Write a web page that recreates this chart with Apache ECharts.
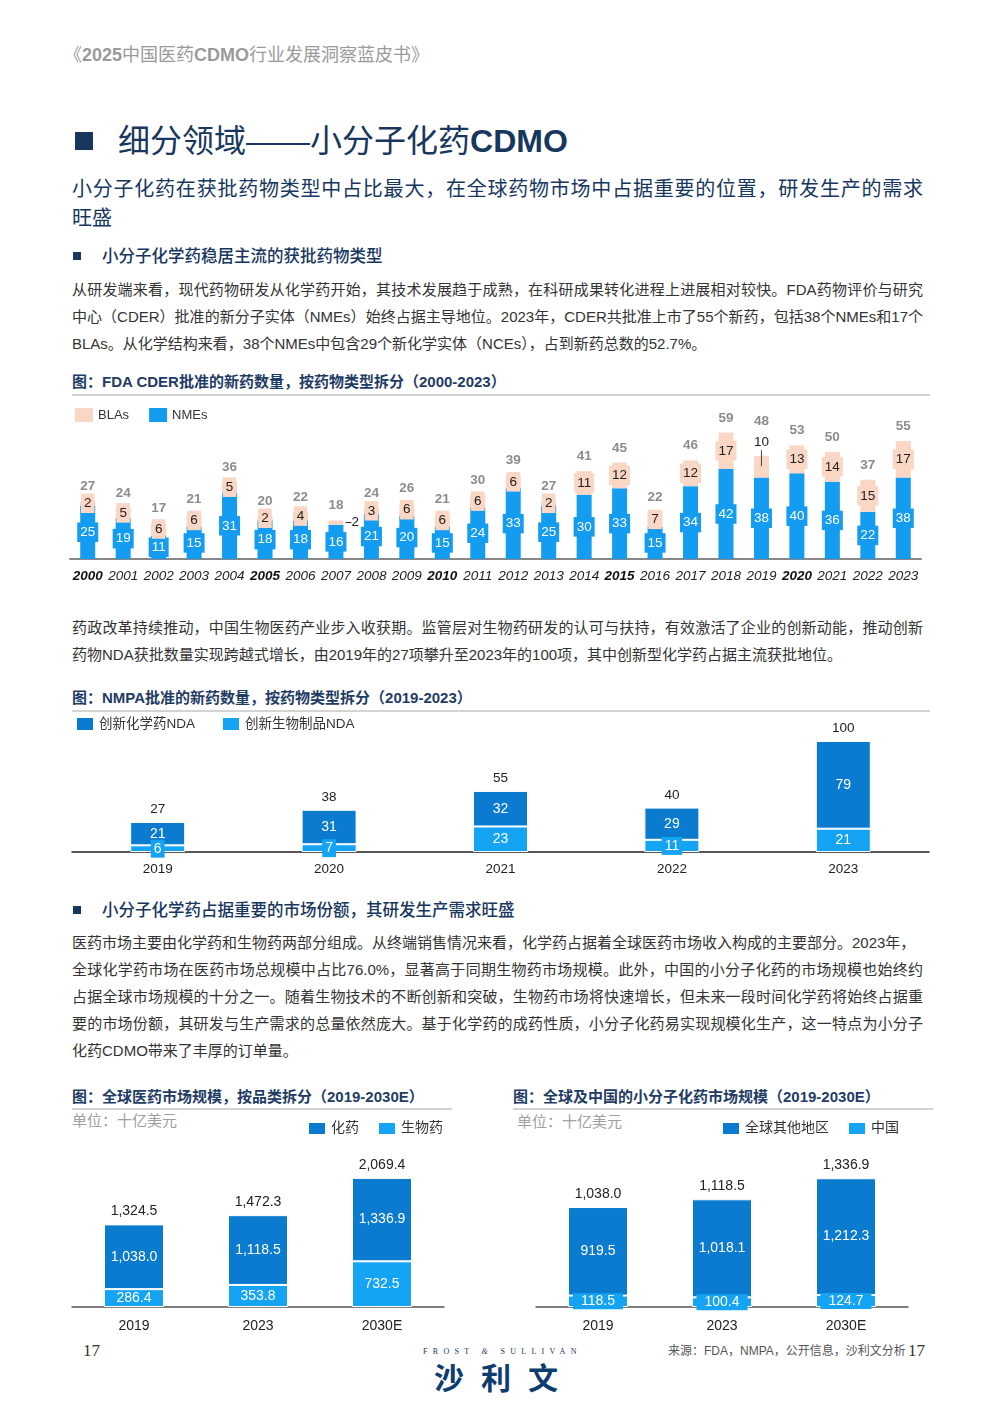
<!DOCTYPE html>
<html><head><meta charset="utf-8">
<script src="https://cdn.jsdelivr.net/npm/echarts@6/dist/echarts.min.js"></script>
<style>
body{margin:0;width:997px;height:1417px;position:relative;background:#fff;font-family:"Liberation Sans","Noto Sans CJK SC",sans-serif;overflow:hidden;color:#333}
.a{position:absolute}
.p{position:absolute;left:72px;width:851px;font-size:15px;line-height:20px;color:#333}
.j{text-align:justify;text-align-last:justify}
.ft{position:absolute;font-size:15px;line-height:20px;font-weight:bold;color:#1f3c64;white-space:nowrap}
.hr{position:absolute;height:2px;background:#d4d4d4}
.sq{position:absolute;background:#17375e}
.sh{position:absolute;left:102px;font-size:16.5px;line-height:22px;color:#17375e;font-weight:500;white-space:nowrap}
.unit{position:absolute;font-size:15px;line-height:20px;color:#a0a0a0;white-space:nowrap}
</style></head>
<body>
<div class="a" style="left:64px;top:44px;font-size:18px;line-height:22px;color:#9a9a9a;white-space:nowrap">《<b>2025</b>中国医药<b>CDMO</b>行业发展洞察蓝皮书》</div>

<div class="sq" style="left:75px;top:132px;width:18px;height:18px"></div>
<div class="a" style="left:118px;top:121px;font-size:32px;line-height:40px;color:#17375e;white-space:nowrap">细分领域——小分子化药<b>CDMO</b></div>

<div class="a j" style="left:72px;top:177px;width:851px;font-size:20px;line-height:24px;color:#17375e">小分子化药在获批药物类型中占比最大，在全球药物市场中占据重要的位置，研发生产的需求</div>
<div class="a" style="left:72px;top:206px;font-size:20px;line-height:24px;color:#17375e">旺盛</div>

<div class="sq" style="left:73px;top:252px;width:8px;height:8px"></div>
<div class="sh" style="top:245px">小分子化学药稳居主流的获批药物类型</div>

<div class="p j" style="top:280px">从研发端来看，现代药物研发从化学药开始，其技术发展趋于成熟，在科研成果转化进程上进展相对较快。FDA药物评价与研究</div>
<div class="p j" style="top:307px">中心（CDER）批准的新分子实体（NMEs）始终占据主导地位。2023年，CDER共批准上市了55个新药，包括38个NMEs和17个</div>
<div class="p" style="top:334px">BLAs。从化学结构来看，38个NMEs中包含29个新化学实体（NCEs），占到新药总数的52.7%。</div>

<div class="ft" style="left:72px;top:372px">图：FDA CDER批准的新药数量，按药物类型拆分（2000-2023）</div>
<div class="hr" style="left:72px;top:394px;width:858px"></div>
<div id="c1" class="a" style="left:60px;top:400px;width:880px;height:190px"></div>

<div class="p j" style="top:618px">药政改革持续推动，中国生物医药产业步入收获期。监管层对生物药研发的认可与扶持，有效激活了企业的创新动能，推动创新</div>
<div class="p" style="top:645px">药物NDA获批数量实现跨越式增长，由2019年的27项攀升至2023年的100项，其中创新型化学药占据主流获批地位。</div>

<div class="ft" style="left:72px;top:688px">图：NMPA批准的新药数量，按药物类型拆分（2019-2023）</div>
<div class="hr" style="left:72px;top:710px;width:858px"></div>
<div id="c2" class="a" style="left:60px;top:715px;width:880px;height:165px"></div>

<div class="sq" style="left:73px;top:906px;width:8px;height:8px"></div>
<div class="sh" style="top:899px">小分子化学药占据重要的市场份额，其研发生产需求旺盛</div>

<div class="p" style="top:933px">医药市场主要由化学药和生物药两部分组成。从终端销售情况来看，化学药占据着全球医药市场收入构成的主要部分。2023年，</div>
<div class="p j" style="top:960px">全球化学药市场在医药市场总规模中占比76.0%，显著高于同期生物药市场规模。此外，中国的小分子化药的市场规模也始终约</div>
<div class="p j" style="top:987px">占据全球市场规模的十分之一。随着生物技术的不断创新和突破，生物药市场将快速增长，但未来一段时间化学药将始终占据重</div>
<div class="p j" style="top:1014px">要的市场份额，其研发与生产需求的总量依然庞大。基于化学药的成药性质，小分子化药易实现规模化生产，这一特点为小分子</div>
<div class="p" style="top:1041px">化药CDMO带来了丰厚的订单量。</div>

<div class="ft" style="left:72px;top:1087px">图：全球医药市场规模，按品类拆分（2019-2030E）</div>
<div class="hr" style="left:72px;top:1108px;width:380px"></div>
<div class="unit" style="left:72px;top:1111px">单位：十亿美元</div>
<div id="c3" class="a" style="left:60px;top:1110px;width:400px;height:230px"></div>

<div class="ft" style="left:513px;top:1087px">图：全球及中国的小分子化药市场规模（2019-2030E）</div>
<div class="hr" style="left:513px;top:1108px;width:420px"></div>
<div class="unit" style="left:517px;top:1112px">单位：十亿美元</div>
<div id="c4" class="a" style="left:500px;top:1110px;width:440px;height:230px"></div>

<div class="a" style="left:83px;top:1341px;font-size:17px;line-height:20px;color:#333;font-family:'Liberation Serif',serif">17</div>
<div class="a" style="left:423px;top:1347px;font-size:8px;line-height:10px;letter-spacing:5.3px;color:#17375e;font-family:'Liberation Serif',serif;white-space:nowrap">FROST <i>&amp;</i> SULLIVAN</div>
<div class="a" style="left:434px;top:1359px;font-size:30px;line-height:34px;letter-spacing:17px;color:#0d3c6e;font-weight:bold;white-space:nowrap;font-family:'Noto Sans CJK SC'">沙利文</div>
<div class="a" style="left:668px;top:1343px;font-size:12px;line-height:16px;color:#555;white-space:nowrap">来源：FDA，NMPA，公开信息，沙利文分析</div>
<div class="a" style="left:908px;top:1341px;font-size:17px;line-height:20px;color:#333;font-family:'Liberation Serif',serif">17</div>

<script>
// ---------- data ----------
const fdaYears = ['2000','2001','2002','2003','2004','2005','2006','2007','2008','2009','2010','2011','2012','2013','2014','2015','2016','2017','2018','2019','2020','2021','2022','2023'];
const fdaNMEs  = [25,19,11,15,31,18,18,16,21,20,15,24,33,25,30,33,15,34,42,38,40,36,22,38];
const fdaBLAs  = [2,5,6,6,5,2,4,2,3,6,6,6,6,2,11,12,7,12,17,10,13,14,15,17];
const fdaTotal = [27,24,17,21,36,20,22,18,24,26,21,30,39,27,41,45,22,46,59,48,53,50,37,55];
const fdaBoldYears = ['2000','2005','2010','2015','2020'];

const nmpaYears = ['2019','2020','2021','2022','2023'];
const nmpaChem  = [21,31,32,29,79];
const nmpaBio   = [6,7,23,11,21];
const nmpaTotal = [27,38,55,40,100];

const mktYears = ['2019','2023','2030E'];
const mktChem  = [1038.0,1118.5,1336.9];
const mktBio   = [286.4,353.8,732.5];
const mktTotal = [1324.5,1472.3,2069.4];

const smYears = ['2019','2023','2030E'];
const smRest  = [919.5,1018.1,1212.3];
const smChina = [118.5,100.4,124.7];
const smTotal = [1038.0,1118.5,1336.9];

// ---------- styles ----------
const FF = '"Liberation Sans","Noto Sans CJK SC",sans-serif';
const DARK = '#0a7bcf', LIGHT = '#15a3f4', NME = '#139cf0', BLA = '#fad6c5';
const fmt = v => Number(v).toLocaleString('en-US',{minimumFractionDigits:1,maximumFractionDigits:1});

// ---------- chart 1 ----------
const c1 = echarts.init(document.getElementById('c1'));
const blaData = fdaBLAs.map((v,i)=>{
  const y = fdaYears[i];
  if (y==='2007') return {value:v,label:{position:'right',distance:2,backgroundColor:'transparent',padding:0,formatter:'{l|}{t|{c}}'}};
  if (y==='2019') return {value:v,label:{position:'top',distance:-10,backgroundColor:'transparent',padding:0,formatter:'{t|{c}}\n{v|}'}};
  return v;
});
const totData = fdaTotal.map((v,i)=> fdaYears[i]==='2019' ? {value:v,label:{distance:28}} : v);
c1.setOption({
  animation:false,
  textStyle:{fontFamily:FF},
  legend:{data:['BLAs','NMEs'],left:15,top:8,padding:0,itemWidth:18,itemHeight:14,itemGap:20,icon:'rect',textStyle:{fontSize:13,color:'#333'}},
  grid:{left:10,right:19,top:9,bottom:31},
  xAxis:{type:'category',data:fdaYears,axisTick:{show:false},
    axisLine:{lineStyle:{color:'#888',width:2}},
    axisLabel:{interval:0,margin:11,fontSize:13.5,fontStyle:'italic',color:'#222',
      formatter:v=> fdaBoldYears.includes(v)?'{b|'+v+'}':'{n|'+v+'}',
      rich:{b:{fontWeight:'bold',fontStyle:'italic',fontSize:13.5,color:'#111'},n:{fontStyle:'italic',fontSize:13.5,color:'#222'}}}},
  yAxis:{type:'value',min:0,max:70,show:false},
  series:[
    {name:'NMEs',type:'bar',stack:'s',barWidth:15,data:fdaNMEs,itemStyle:{color:NME},
     label:{show:true,position:'inside',color:'#fff',fontSize:13.5,backgroundColor:NME,padding:[3,3]}},
    {name:'BLAs',type:'bar',stack:'s',barWidth:15,data:blaData,itemStyle:{color:BLA},
     label:{show:true,position:'inside',color:'#222',fontSize:13.5,backgroundColor:BLA,padding:[3,3],
       rich:{t:{fontSize:13.5,color:'#222',lineHeight:15},l:{width:6,height:1,backgroundColor:'#222'},v:{width:1,height:16,backgroundColor:'#444'}}}},
    {name:'total',type:'bar',barGap:'-100%',barWidth:15,data:totData,itemStyle:{color:'transparent'},silent:true,
     label:{show:true,position:'top',distance:8,color:'#8c8c8c',fontWeight:'bold',fontSize:13.5}}
  ]
});

// ---------- chart 2 ----------
const c2 = echarts.init(document.getElementById('c2'));
c2.setOption({
  animation:false,
  textStyle:{fontFamily:FF},
  legend:{data:['创新化学药NDA','创新生物制品NDA'],left:15,top:1,padding:0,itemWidth:18,itemHeight:14,itemGap:26,icon:'rect',textStyle:{fontSize:13.5,color:'#333'}},
  grid:{left:12,right:11,top:26,bottom:28},
  xAxis:{type:'category',data:nmpaYears,axisTick:{show:false},
    axisLine:{lineStyle:{color:'#222',width:1.5}},
    axisLabel:{margin:11,fontSize:13.5,color:'#222'}},
  yAxis:{type:'value',min:0,max:100,show:false},
  series:[
    {name:'创新生物制品NDA',type:'bar',stack:'s',barWidth:55,data:nmpaBio,itemStyle:{color:LIGHT,borderColor:'#fff',borderWidth:1},
     label:{show:true,position:'inside',color:'#fff',fontSize:14,backgroundColor:LIGHT,padding:[2,3]}},
    {name:'创新化学药NDA',type:'bar',stack:'s',barWidth:55,data:nmpaChem,itemStyle:{color:DARK,borderColor:'#fff',borderWidth:1},
     label:{show:true,position:'inside',color:'#fff',fontSize:14}},
    {name:'total',type:'bar',barGap:'-100%',barWidth:55,data:nmpaTotal,itemStyle:{color:'transparent'},silent:true,
     label:{show:true,position:'top',distance:6,color:'#222',fontSize:13.5}}
  ]
});

// ---------- chart 3 ----------
const c3 = echarts.init(document.getElementById('c3'));
c3.setOption({
  animation:false,
  textStyle:{fontFamily:FF},
  legend:{data:['化药','生物药'],left:247,top:11,padding:0,itemWidth:18,itemHeight:13,itemGap:18,icon:'rect',textStyle:{fontSize:14,color:'#333'}},
  grid:{left:12,right:16,top:66,bottom:33},
  xAxis:{type:'category',data:mktYears,axisTick:{show:false},
    axisLine:{lineStyle:{color:'#555',width:1.5}},
    axisLabel:{margin:12,fontSize:14,color:'#222'}},
  yAxis:{type:'value',min:0,max:2100,show:false},
  series:[
    {name:'生物药',type:'bar',stack:'s',barWidth:60,data:mktBio,itemStyle:{color:LIGHT,borderColor:'#fff',borderWidth:1},
     label:{show:true,position:'inside',color:'#fff',fontSize:14,formatter:p=>fmt(p.value)}},
    {name:'化药',type:'bar',stack:'s',barWidth:60,data:mktChem,itemStyle:{color:DARK,borderColor:'#fff',borderWidth:1},
     label:{show:true,position:'inside',color:'#fff',fontSize:14,formatter:p=>fmt(p.value)}},
    {name:'total',type:'bar',barGap:'-100%',barWidth:60,data:mktTotal,itemStyle:{color:'transparent'},silent:true,
     label:{show:true,position:'top',distance:6,color:'#222',fontSize:14,formatter:p=>fmt(p.value)}}
  ]
});

// ---------- chart 4 ----------
const c4 = echarts.init(document.getElementById('c4'));
c4.setOption({
  animation:false,
  textStyle:{fontFamily:FF},
  legend:{data:['全球其他地区','中国'],left:221,top:11,padding:0,itemWidth:18,itemHeight:13,itemGap:18,icon:'rect',textStyle:{fontSize:14,color:'#333'}},
  grid:{left:36,right:32,top:67,bottom:33},
  xAxis:{type:'category',data:smYears,axisTick:{show:false},
    axisLine:{lineStyle:{color:'#555',width:1.5}},
    axisLabel:{margin:12,fontSize:14,color:'#222'}},
  yAxis:{type:'value',min:0,max:1350,show:false},
  series:[
    {name:'中国',type:'bar',stack:'s',barWidth:60,data:smChina,itemStyle:{color:LIGHT,borderColor:'#fff',borderWidth:1},
     label:{show:true,position:'inside',color:'#fff',fontSize:14,backgroundColor:LIGHT,padding:[1,8],formatter:p=>fmt(p.value)}},
    {name:'全球其他地区',type:'bar',stack:'s',barWidth:60,data:smRest,itemStyle:{color:DARK,borderColor:'#fff',borderWidth:1},
     label:{show:true,position:'inside',color:'#fff',fontSize:14,formatter:p=>fmt(p.value)}},
    {name:'total',type:'bar',barGap:'-100%',barWidth:60,data:smTotal,itemStyle:{color:'transparent'},silent:true,
     label:{show:true,position:'top',distance:6,color:'#222',fontSize:14,formatter:p=>fmt(p.value)}}
  ]
});
</script>
</body></html>
